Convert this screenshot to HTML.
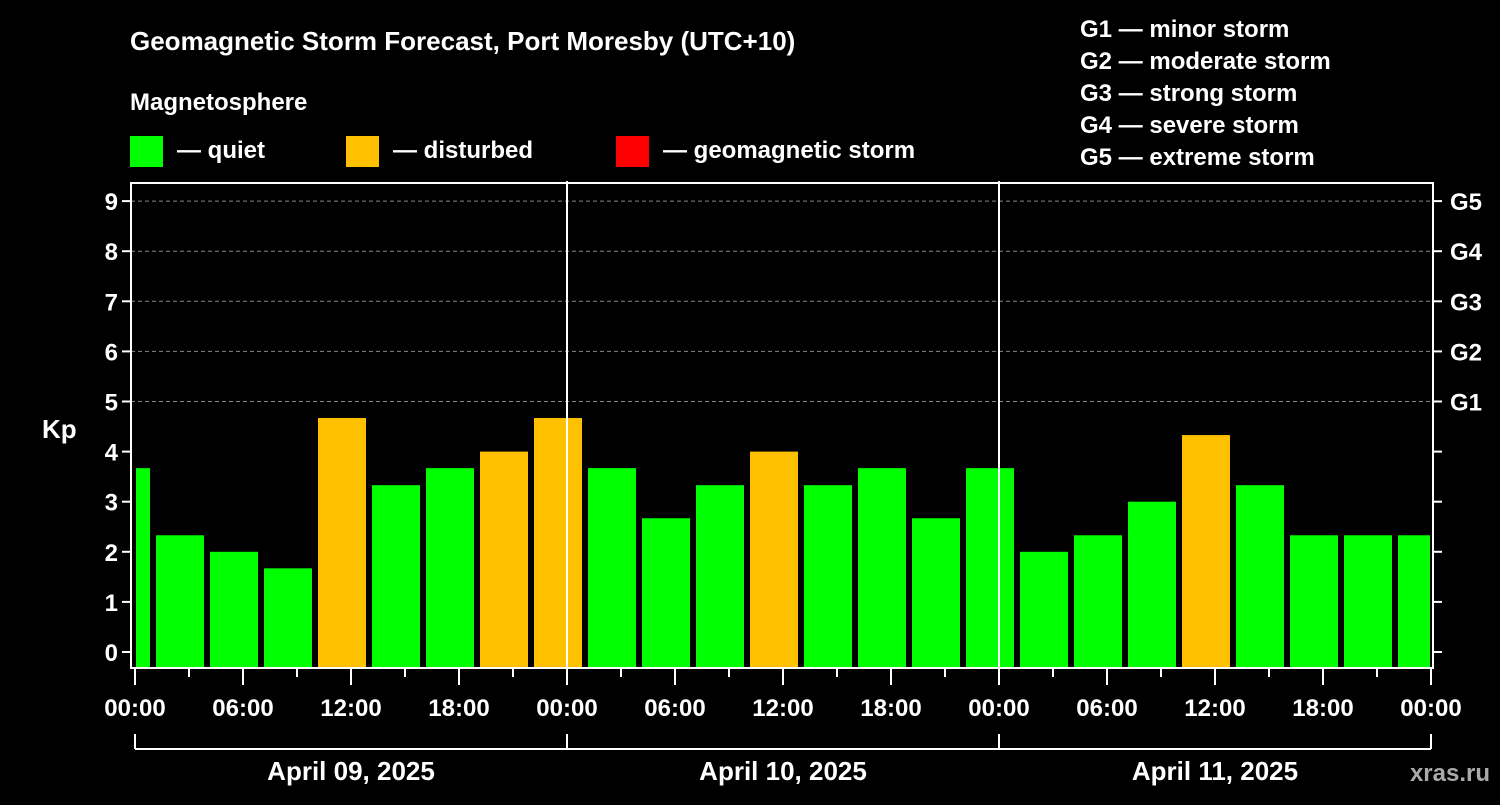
<!DOCTYPE html>
<html><head><meta charset="utf-8"><style>
body{margin:0;background:#000;}
svg text{font-family:"Liberation Sans",Arial,sans-serif;font-weight:bold;fill:#fff;}
</style></head><body>
<svg id="c" width="1500" height="800" xmlns="http://www.w3.org/2000/svg">
<rect width="1500" height="800" fill="#000"/>
<text x="130" y="50" font-size="26">Geomagnetic Storm Forecast, Port Moresby (UTC+10)</text>
<text x="130" y="110" font-size="24">Magnetosphere</text>
<g><rect x="130" y="136" width="33" height="31" fill="#00ff00"/><text x="177" y="158" font-size="24">— quiet</text></g>
<g><rect x="346" y="136" width="33" height="31" fill="#ffc000"/><text x="393" y="158" font-size="24">— disturbed</text></g>
<g><rect x="616" y="136" width="33" height="31" fill="#ff0000"/><text x="663" y="158" font-size="24">— geomagnetic storm</text></g>
<g font-size="24">
<text x="1080" y="37">G1 — minor storm</text>
<text x="1080" y="69">G2 — moderate storm</text>
<text x="1080" y="101">G3 — strong storm</text>
<text x="1080" y="133">G4 — severe storm</text>
<text x="1080" y="165">G5 — extreme storm</text>
</g>
<text x="42" y="438" font-size="26">Kp</text>
<text x="1490" y="781" font-size="24" text-anchor="end" fill="#999" style="fill:#aaa">xras.ru</text>
<g id="plot"></g>
</svg>
<script>
const kpValues=[3.67,2.33,2.0,1.67,4.67,3.33,3.67,4.0,4.67,3.67,2.67,3.33,4.0,3.33,3.67,2.67,3.67,2.0,2.33,3.0,4.33,3.33,2.33,2.33,2.33];
const hourTicks=["00:00","06:00","12:00","18:00","00:00","06:00","12:00","18:00","00:00","06:00","12:00","18:00","00:00"];
const dayLabels=["April 09, 2025","April 10, 2025","April 11, 2025"];
const yTicks=[0,1,2,3,4,5,6,7,8,9];
const gLabels=["G1","G2","G3","G4","G5"];
const NS="http://www.w3.org/2000/svg";
const g=document.getElementById('plot');
const X0=135,PXH=18,L=131,R=1433,T=183,B=668;
const x=h=>X0+h*PXH;
const y=v=>652-v*50.1;
function mk(t,a,p){const e=document.createElementNS(NS,t);for(const k in a)e.setAttribute(k,a[k]);(p||g).appendChild(e);return e;}
// bars: 3h blocks starting at local 22:00 (-2h)
kpValues.forEach((v,i)=>{
  let s=-2+3*i,e=s+3;
  let x1=Math.max(x(s)+3,L+5),x2=Math.min(x(e)-3,R-3);
  const r=mk('rect',{x:x1,y:y(v),width:x2-x1,height:B-y(v),fill:v>=4?'#ffc000':'#00ff00'});
  
  
});
// grid lines
[5,6,7,8,9].forEach(v=>{mk('line',{x1:L,x2:R,y1:y(v),y2:y(v),stroke:'#888','stroke-dasharray':'4,3','stroke-width':1});});
yTicks.forEach(v=>{
  mk('line',{x1:L-9,x2:L,y1:y(v),y2:y(v),stroke:'#fff','stroke-width':2});
  mk('line',{x1:R,x2:R+9,y1:y(v),y2:y(v),stroke:'#fff','stroke-width':2});
  const t=mk('text',{x:118,y:y(v)+9,'font-size':24,'text-anchor':'end'});t.textContent=v;
  
  
});
gLabels.forEach((s,i)=>{const t=mk('text',{x:1450,y:y(5+i)+9,'font-size':24});t.textContent=s;
  
  });
// day separators
[1,2].forEach(d=>mk('line',{x1:x(24*d),x2:x(24*d),y1:181,y2:B,stroke:'#fff','stroke-width':2}));
// frame
mk('rect',{x:L,y:T,width:R-L,height:B-T,fill:'none',stroke:'#fff','stroke-width':2});
// x ticks
for(let h=0;h<=72;h+=3){mk('line',{x1:x(h),x2:x(h),y1:B,y2:B+(h%6==0?17:9),stroke:'#fff','stroke-width':2});}
hourTicks.forEach((s,i)=>{const t=mk('text',{x:x(i*6),y:716,'font-size':24,'text-anchor':'middle'});t.textContent=s;
  
  });
// bracket
mk('line',{x1:x(0),x2:x(72),y1:749,y2:749,stroke:'#fff','stroke-width':2});
[0,24,48,72].forEach(h=>mk('line',{x1:x(h),x2:x(h),y1:734,y2:749,stroke:'#fff','stroke-width':2}));
dayLabels.forEach((s,i)=>{const t=mk('text',{x:x(24*i+12),y:780,'font-size':26,'text-anchor':'middle'});t.textContent=s;
  
  });
</script>
</body></html>
